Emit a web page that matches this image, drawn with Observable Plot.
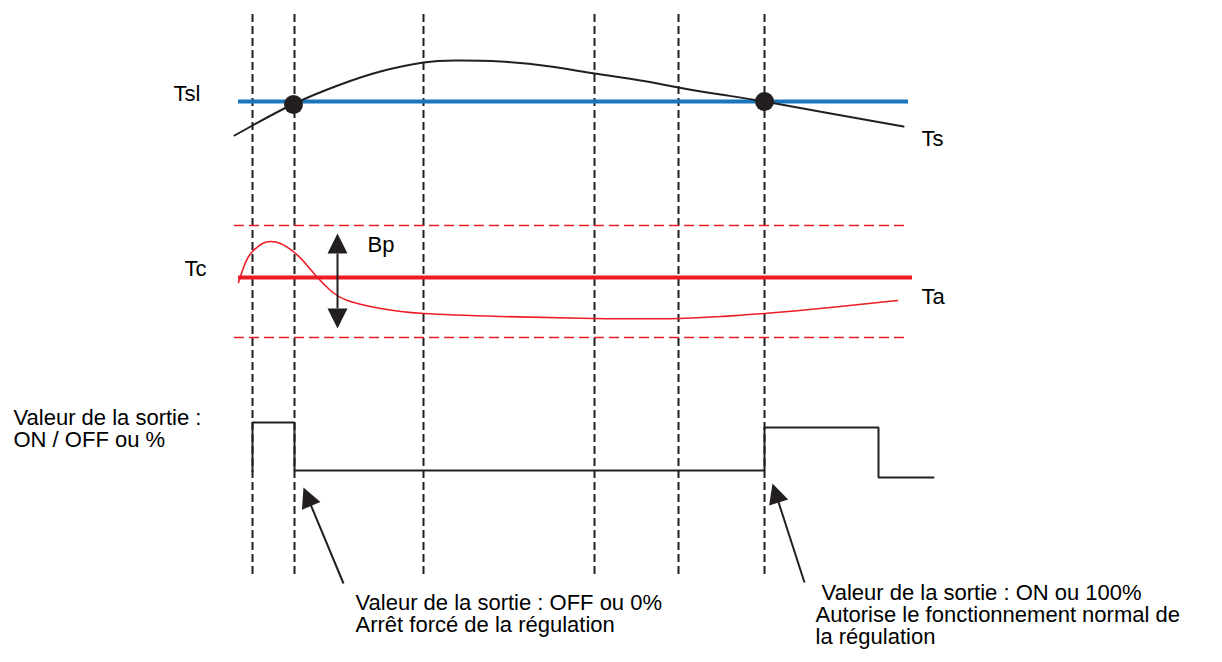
<!DOCTYPE html>
<html>
<head>
<meta charset="utf-8">
<script src="https://cdn.jsdelivr.net/npm/d3@7"></script>
<script src="https://cdn.jsdelivr.net/npm/@observablehq/plot@0.6"></script>
<style>
  html, body { margin: 0; padding: 0; background: #fff; }
  #chart svg { display: block; }
</style>
</head>
<body>
<div id="chart"></div>
<script>
// ---- Data (diagram units: x = time position, y = vertical position, downward) ----
const eventX = [252, 294, 423, 594, 678, 764];
const eventTop = 14, eventBottom = 574;

const tslLevel = 101, tslStart = 238, tslEnd = 908;
const tcLevel = 277, tcStart = 238, tcEnd = 912;
const bandHigh = 225, bandLow = 337, bandStart = 234, bandEnd = 904;

const tsX = [234, 252, 294, 340, 380, 423, 455, 500, 550, 594, 640, 678, 720, 764, 830, 903];
const tsY = [135, 125, 103, 84, 71, 62, 60, 61, 66, 73, 80, 87, 94, 101, 113, 126];

const taX = [238, 245, 252, 262, 270, 280, 294, 305, 317, 330, 347, 380, 423, 500, 594, 678, 720, 764, 830, 897];
const taY = [282, 262, 251, 243, 241, 243, 252, 263, 277, 290, 300, 308, 313, 316, 318, 318, 316, 313, 307, 300];

const outX = [252, 252, 294, 294, 764, 764, 878, 878, 933];
const outY = [471, 422, 422, 470, 470, 427, 427, 477, 477];

const crossX = [293, 764];
const crossY = [104, 101];

// Bp double arrow (tips)
const bpX = 337, bpTop = 233, bpBottom = 328;
// pointer arrows: tail -> tip
const pointerTailX = [343, 804], pointerTailY = [583, 582];
const pointerTipX = [303, 772], pointerTipY = [487, 483];

const labels = [
  {x: 173, y: 85,  text: "Tsl"},
  {x: 921, y: 130, text: "Ts"},
  {x: 184, y: 260, text: "Tc"},
  {x: 367, y: 236, text: "Bp"},
  {x: 921, y: 288, text: "Ta"},
  {x: 13,  y: 409, text: "Valeur de la sortie :\nON / OFF ou %"},
  {x: 355, y: 594, text: "Valeur de la sortie : OFF ou 0%\nArrêt forcé de la régulation"},
  {x: 815, y: 584, text: "\u00a0Valeur de la sortie : ON ou 100%\nAutorise le fonctionnement normal de\nla régulation"}
];

// ---- Build tables ----
const ts = tsX.map((x, i) => ({x, y: tsY[i]}));
const ta = taX.map((x, i) => ({x, y: taY[i]}));
const out = outX.map((x, i) => ({x, y: outY[i]}));
const cross = crossX.map((x, i) => ({x, y: crossY[i]}));

const HEAD = 20; // arrow head length (px)
const heads = [
  {x: bpX, y: bpTop, angle: 0},
  {x: bpX, y: bpBottom, angle: 180}
];
const shafts = [{x1: bpX, y1: bpTop + HEAD, x2: bpX, y2: bpBottom - HEAD}];
pointerTailX.forEach((tx, i) => {
  const dx = pointerTipX[i] - tx, dy = pointerTipY[i] - pointerTailY[i];
  const len = Math.hypot(dx, dy);
  heads.push({x: pointerTipX[i], y: pointerTipY[i], angle: Math.atan2(dx, -dy) * 180 / Math.PI});
  shafts.push({x1: tx, y1: pointerTailY[i], x2: pointerTipX[i] - dx / len * (HEAD - 2), y2: pointerTipY[i] - dy / len * (HEAD - 2)});
});

// filled arrow head symbol: tip at origin, pointing up
const arrowHead = {
  draw(context, size) {
    const r = Math.sqrt(size / Math.PI);
    context.moveTo(0, 0);
    context.lineTo(-r, 2 * r);
    context.lineTo(r, 2 * r);
    context.closePath();
  }
};

const red = "#ed1c24", blue = "#1b75bb", ink = "#231f20";

const chart = Plot.plot({
  width: 1222,
  height: 662,
  margin: 0,
  x: {domain: [0, 1222], range: [0, 1222], axis: null},
  y: {domain: [0, 662], range: [0, 662], axis: null},
  style: {fontFamily: "'Liberation Sans', Arial, Helvetica, sans-serif", background: "#fff"},
  marks: [
    // vertical event lines
    Plot.ruleX(eventX, {x: d => d, y1: eventTop, y2: eventBottom, stroke: ink, strokeWidth: 2, strokeDasharray: "8,4"}),
    // band limits
    Plot.ruleY([bandHigh, bandLow], {y: d => d, x1: bandStart, x2: bandEnd, stroke: red, strokeWidth: 1.6, strokeDasharray: "10,5"}),
    // Tsl
    Plot.ruleY([tslLevel], {y: d => d, x1: tslStart, x2: tslEnd, stroke: blue, strokeWidth: 4}),
    // Tc
    Plot.ruleY([tcLevel], {y: d => d, x1: tcStart, x2: tcEnd, stroke: red, strokeWidth: 4}),
    // Ts curve
    Plot.line(ts, {x: "x", y: "y", curve: "natural", stroke: ink, strokeWidth: 2}),
    // Ta curve
    Plot.line(ta, {x: "x", y: "y", curve: "natural", stroke: red, strokeWidth: 1.6}),
    // output signal
    Plot.line(out, {x: "x", y: "y", curve: "linear", stroke: ink, strokeWidth: 2, strokeLinejoin: "miter"}),
    // crossing dots
    Plot.dot(cross, {x: "x", y: "y", r: 9.5, fill: ink, stroke: "none"}),
    // arrows
    Plot.link(shafts, {x1: "x1", y1: "y1", x2: "x2", y2: "y2", stroke: ink, strokeWidth: 2}),
    Plot.dot(heads, {x: "x", y: "y", rotate: "angle", symbol: arrowHead, r: HEAD / 2, fill: ink, stroke: "none"}),
    // labels
    Plot.text(labels, {x: "x", y: "y", text: "text", textAnchor: "start", lineAnchor: "top", lineHeight: 1.0, fontSize: 22, fill: "#000"})
  ]
});
document.getElementById("chart").appendChild(chart);
</script>
</body>
</html>
